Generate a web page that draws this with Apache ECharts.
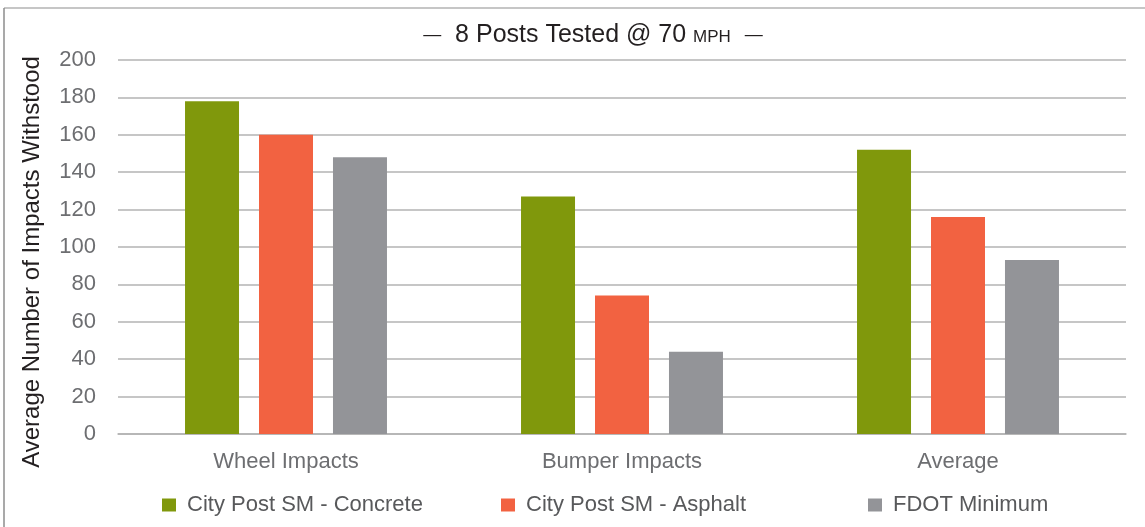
<!DOCTYPE html>
<html>
<head>
<meta charset="utf-8">
<title>8 Posts Tested @ 70 MPH</title>
<script src="https://cdn.jsdelivr.net/npm/echarts@6/dist/echarts.min.js"></script>
<style>
  html, body { margin: 0; padding: 0; background: #ffffff; }
  #chart { width: 1145px; height: 527px; }
</style>
</head>
<body>
<div id="chart"></div>
<script>
"use strict";

// 类目
var categories = ["Wheel Impacts", "Bumper Impacts", "Average"];
// 各系列数值
var concreteValues = [178, 127, 152];
var asphaltValues = [160, 74, 116];
var fdotValues = [148, 44, 93];
// 系列名称
var seriesNames = ["City Post SM - Concrete", "City Post SM - Asphalt", "FDOT Minimum"];
// y轴刻度
var yTicks = [0, 20, 40, 60, 80, 100, 120, 140, 160, 180, 200];

var colors = ["#80980c", "#f26241", "#939498"];
var font = "'Liberation Sans', Arial, Helvetica, sans-serif";
// 图例位置（每项一个图例）
var legendLefts = [157, 496, 863];

var chart = echarts.init(document.getElementById("chart"));

function barSeries(name, data, color) {
  return {
    name: name,
    type: "bar",
    data: data,
    barWidth: 54,
    barGap: "37%",
    itemStyle: { color: color },
    animation: false
  };
}

function legendItem(name, left) {
  return {
    data: [name],
    top: 489,
    left: left,
    itemWidth: 14,
    itemHeight: 13,
    icon: "rect",
    textStyle: {
      fontFamily: font,
      fontSize: 22,
      color: "#58595b",
      padding: [0, 0, 0, 6]
    }
  };
}

var option = {
  animation: false,
  backgroundColor: "#ffffff",
  title: {
    text: "{d|—}  8 Posts Tested @ 70 {s|MPH}  {d|—}",
    left: 588,
    top: 18,
    textAlign: "center",
    textStyle: {
      fontFamily: font,
      fontSize: 25,
      fontWeight: "normal",
      color: "#231f20",
      rich: {
        d: { fontFamily: font, fontSize: 18, color: "#231f20" },
        s: { fontFamily: font, fontSize: 17, color: "#231f20", padding: [4, 0, 0, 0] }
      }
    }
  },
  legend: [
    legendItem(seriesNames[0], legendLefts[0]),
    legendItem(seriesNames[1], legendLefts[1]),
    legendItem(seriesNames[2], legendLefts[2])
  ],
  grid: {
    left: 118,
    right: 19,
    top: 60,
    bottom: 93,
    containLabel: false
  },
  xAxis: {
    type: "category",
    data: categories,
    axisTick: { show: false },
    axisLine: { lineStyle: { color: "#b3b3b3", width: 1.5 } },
    axisLabel: {
      fontFamily: font,
      fontSize: 22,
      color: "#6d6e71",
      margin: 17
    }
  },
  yAxis: {
    type: "value",
    min: yTicks[0],
    max: yTicks[yTicks.length - 1],
    interval: yTicks[1] - yTicks[0],
    name: "Average Number of Impacts Withstood",
    nameLocation: "middle",
    nameGap: 74,
    nameTextStyle: {
      fontFamily: font,
      fontSize: 24,
      color: "#231f20",
      padding: [0, 30, 0, 0]
    },
    axisLine: { show: false },
    axisTick: { show: false },
    axisLabel: {
      fontFamily: font,
      fontSize: 22,
      color: "#6d6e71",
      margin: 22
    },
    splitLine: { lineStyle: { color: "#b3b3b3", width: 1.5 } }
  },
  graphic: [
    // 外框（上、左）
    { type: "line", shape: { x1: 4, y1: 8, x2: 1145, y2: 8 }, style: { stroke: "#b3b3b3", lineWidth: 1.5 }, silent: true },
    { type: "line", shape: { x1: 4, y1: 8, x2: 4, y2: 527 }, style: { stroke: "#8c8c8c", lineWidth: 1.5 }, silent: true }
  ],
  series: [
    barSeries(seriesNames[0], concreteValues, colors[0]),
    barSeries(seriesNames[1], asphaltValues, colors[1]),
    barSeries(seriesNames[2], fdotValues, colors[2])
  ]
};

chart.setOption(option);
</script>
</body>
</html>
